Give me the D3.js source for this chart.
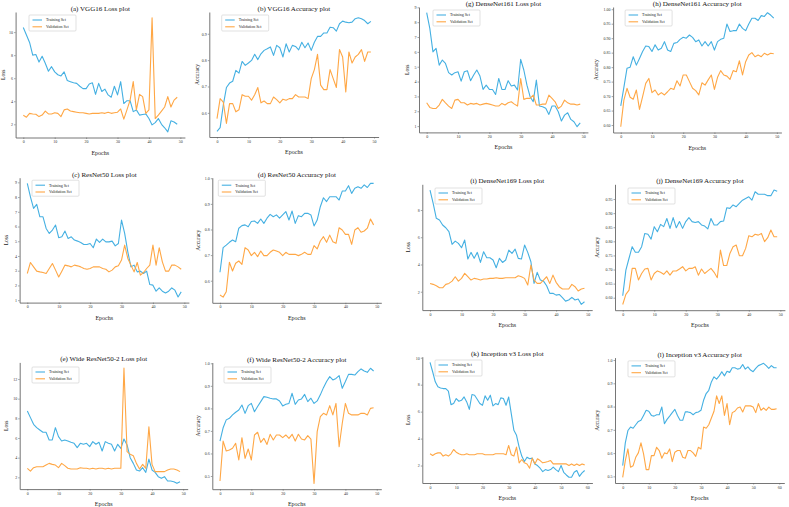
<!DOCTYPE html>
<html><head><meta charset="utf-8">
<script src="https://cdn.jsdelivr.net/npm/d3@7/dist/d3.min.js"></script>
<style>
body{margin:0;background:#fff;}
svg{display:block;}
text{font-family:"Liberation Serif","Times New Roman",serif;}
</style></head>
<body><svg id="c" width="789" height="507"></svg>
<script>
// ---------------- DATA ----------------
const vggLossTrain=[10.4,9.75,9.1,8.0,8.05,7.4,7.9,7.3,6.6,7.0,6.55,6.3,6.2,6.55,5.8,5.7,5.6,5.55,5.3,5.1,5.1,5.5,5.6,4.6,5.55,4.85,5.05,4.55,4.35,5.3,4.55,5.7,3.8,4.05,4.05,3.1,3.25,2.8,2.85,2.9,2.5,1.95,2.15,2.5,2.0,1.7,1.35,2.3,2.2,2.0];
const vggLossVal=[2.78,2.62,2.95,2.9,2.87,2.67,2.8,3.15,2.9,2.9,3.0,2.95,2.67,3.25,3.33,3.15,3.1,3.05,3.0,3.0,2.95,2.9,2.95,2.95,2.95,3.0,2.95,3.05,2.95,3.0,3.05,3.33,2.45,3.25,4.1,5.7,3.25,4.6,4.4,2.95,3.25,11.25,2.5,2.8,3.15,3.5,4.4,3.5,4.1,4.35];
const vggAccTrain=[0.530,0.544,0.629,0.696,0.713,0.72,0.761,0.751,0.795,0.78,0.789,0.799,0.822,0.802,0.824,0.837,0.843,0.85,0.818,0.856,0.847,0.812,0.862,0.831,0.856,0.852,0.839,0.868,0.847,0.865,0.837,0.868,0.89,0.89,0.903,0.903,0.925,0.923,0.91,0.938,0.948,0.944,0.942,0.944,0.957,0.961,0.957,0.95,0.938,0.947];
const vggAccVal=[0.578,0.654,0.641,0.56,0.635,0.635,0.604,0.612,0.669,0.663,0.663,0.648,0.669,0.696,0.638,0.645,0.635,0.635,0.66,0.65,0.638,0.652,0.648,0.654,0.654,0.669,0.66,0.66,0.66,0.654,0.73,0.764,0.822,0.705,0.688,0.688,0.764,0.73,0.696,0.84,0.812,0.679,0.831,0.789,0.812,0.822,0.84,0.795,0.831,0.831];

const res50LossTrain=[8.93,8.02,7.23,7.5,6.66,6.66,5.87,5.53,5.76,6.1,5.24,5.3,5.69,5.19,5.3,5.08,5.01,4.92,4.78,4.78,4.85,4.56,5.15,4.92,5.15,4.96,4.96,5.01,4.69,4.85,6.44,5.53,4.28,3.26,3.38,2.92,2.97,2.81,2.97,2.06,2.02,1.61,1.83,1.61,1.49,1.61,1.83,1.68,1.22,1.56];
const res50LossVal=[2.81,3.56,3.26,2.97,2.92,2.88,2.81,3.15,3.49,3.04,2.58,2.97,3.38,3.33,3.26,3.38,3.33,3.26,3.15,3.1,3.15,3.26,3.26,3.26,3.15,3.1,2.92,3.04,3.26,3.33,3.72,4.74,3.83,3.38,2.92,3.56,2.7,2.88,3.15,3.38,4.74,3.38,4.56,3.6,2.97,2.97,3.38,3.38,3.26,3.1];
const res50AccTrain=[0.633,0.729,0.739,0.75,0.759,0.752,0.805,0.815,0.818,0.811,0.831,0.833,0.824,0.841,0.824,0.844,0.859,0.85,0.857,0.844,0.857,0.87,0.837,0.872,0.824,0.854,0.85,0.863,0.863,0.857,0.814,0.837,0.889,0.924,0.909,0.928,0.928,0.928,0.915,0.95,0.95,0.971,0.941,0.961,0.967,0.961,0.974,0.964,0.98,0.98];
const res50AccVal=[0.544,0.536,0.557,0.672,0.638,0.668,0.677,0.664,0.729,0.72,0.698,0.711,0.694,0.716,0.698,0.698,0.711,0.72,0.716,0.711,0.698,0.711,0.703,0.703,0.703,0.698,0.703,0.711,0.703,0.703,0.737,0.724,0.755,0.772,0.75,0.778,0.752,0.746,0.807,0.798,0.781,0.781,0.742,0.798,0.807,0.789,0.794,0.805,0.841,0.818];

const wideLossTrain=[8.75,8.07,7.39,7.05,6.81,6.58,6.58,5.8,5.8,7.05,6.14,5.69,5.8,5.69,5.56,5.46,5.02,5.46,5.36,5.46,5.12,5.63,5.36,5.56,4.68,5.63,5.46,5.36,4.68,5.36,4.95,5.9,5.29,4.0,3.42,2.75,2.64,2.98,2.51,3.86,2.75,2.51,2.07,1.9,2.07,1.63,1.63,1.56,1.39,1.56];
const wideLossVal=[2.92,2.64,2.98,3.08,3.08,3.08,3.25,3.42,3.32,3.25,2.98,3.42,3.19,2.92,2.85,2.85,2.85,2.98,2.92,2.92,2.85,2.92,2.85,2.92,2.92,2.85,2.92,2.85,2.92,2.92,2.92,13.1,4.61,4.34,4.2,3.42,2.85,3.32,2.92,7.15,3.32,2.58,2.58,2.58,2.58,2.75,2.85,2.85,2.75,2.58];
const wideAccTrain=[0.655,0.714,0.749,0.756,0.771,0.783,0.793,0.815,0.778,0.812,0.822,0.785,0.808,0.83,0.852,0.849,0.845,0.842,0.842,0.833,0.811,0.818,0.822,0.867,0.818,0.837,0.842,0.862,0.83,0.845,0.822,0.833,0.86,0.892,0.919,0.941,0.926,0.933,0.945,0.889,0.919,0.951,0.951,0.948,0.963,0.975,0.966,0.96,0.978,0.966];
const wideAccVal=[0.478,0.655,0.611,0.615,0.623,0.645,0.571,0.67,0.578,0.62,0.571,0.682,0.694,0.649,0.667,0.64,0.685,0.66,0.682,0.682,0.67,0.682,0.667,0.685,0.655,0.685,0.664,0.66,0.679,0.664,0.467,0.697,0.763,0.778,0.771,0.812,0.771,0.822,0.63,0.734,0.822,0.778,0.771,0.771,0.771,0.778,0.778,0.771,0.8,0.803];

const d161LossTrain=[8.64,7.58,6.0,6.24,5.11,5.45,5.22,4.6,4.44,4.6,4.66,4.03,4.66,4.73,4.06,4.44,4.78,4.37,3.47,3.76,3.47,3.47,3.13,4.21,3.47,3.47,4.06,3.7,3.76,3.43,5.5,4.78,3.76,2.98,2.64,4.1,2.35,2.3,2.2,1.79,2.35,2.35,1.97,1.34,1.74,1.9,1.45,1.29,0.96,1.22];
const d161LossVal=[2.57,2.26,2.19,2.19,2.42,2.8,2.57,2.35,2.19,2.75,2.8,2.57,2.57,2.42,2.53,2.48,2.53,2.42,2.48,2.53,2.48,2.42,2.35,2.35,2.53,2.42,2.57,2.64,2.48,2.35,4.21,2.8,2.87,2.87,3.09,2.42,2.42,2.48,2.48,3.09,2.87,2.64,2.19,2.35,2.75,2.57,2.48,2.48,2.42,2.48];
const d161AccTrain=[0.666,0.73,0.796,0.8,0.836,0.807,0.83,0.854,0.873,0.871,0.854,0.877,0.859,0.865,0.888,0.859,0.854,0.882,0.885,0.896,0.903,0.9,0.911,0.903,0.888,0.894,0.873,0.888,0.873,0.888,0.859,0.888,0.896,0.9,0.949,0.923,0.926,0.926,0.949,0.934,0.926,0.949,0.969,0.969,0.961,0.978,0.975,0.988,0.98,0.969];
const d161AccVal=[0.594,0.686,0.727,0.696,0.689,0.721,0.654,0.698,0.744,0.761,0.712,0.721,0.704,0.712,0.704,0.715,0.727,0.723,0.753,0.735,0.773,0.773,0.75,0.727,0.719,0.704,0.746,0.738,0.756,0.773,0.723,0.765,0.788,0.773,0.769,0.758,0.788,0.784,0.822,0.773,0.819,0.842,0.85,0.836,0.842,0.836,0.848,0.842,0.848,0.846];

const d169LossTrain=[9.47,8.49,7.39,7.27,6.9,6.7,6.41,5.48,5.72,5.55,5.23,5.8,4.4,4.89,4.45,4.89,4.15,4.94,4.5,4.5,4.33,3.76,4.45,4.15,4.33,5.06,4.82,5.13,4.45,4.4,5.43,4.89,4.2,2.61,3.42,2.86,2.78,2.44,1.88,1.88,1.75,1.8,1.56,1.31,1.39,1.58,1.39,1.46,1.07,1.26];
const d169LossVal=[2.61,2.54,2.44,2.29,2.29,2.54,2.61,2.78,3.1,2.78,2.98,3.35,3.1,2.86,2.98,2.93,2.86,2.93,2.93,2.98,2.98,3.03,2.98,2.98,3.03,3.03,3.03,3.03,3.17,3.1,2.98,2.49,3.96,2.86,2.61,2.61,2.86,3.1,2.61,3.22,2.69,2.37,2.2,2.2,2.2,2.54,2.37,2.05,2.2,2.25];
const d169AccTrain=[0.607,0.698,0.74,0.781,0.761,0.761,0.781,0.828,0.825,0.808,0.852,0.834,0.86,0.852,0.881,0.846,0.884,0.848,0.87,0.846,0.87,0.884,0.87,0.867,0.87,0.858,0.854,0.844,0.881,0.858,0.858,0.87,0.872,0.919,0.917,0.929,0.923,0.935,0.946,0.952,0.958,0.946,0.976,0.967,0.967,0.967,0.962,0.962,0.982,0.978];
const d169AccVal=[0.576,0.612,0.627,0.704,0.704,0.663,0.686,0.702,0.704,0.663,0.686,0.695,0.69,0.683,0.695,0.68,0.695,0.695,0.702,0.71,0.695,0.704,0.704,0.71,0.68,0.702,0.686,0.695,0.704,0.69,0.671,0.769,0.714,0.714,0.757,0.781,0.787,0.749,0.749,0.775,0.82,0.816,0.825,0.822,0.828,0.799,0.813,0.84,0.816,0.816];

const incLossTrain=[9.65,8.96,8.21,7.84,7.76,7.71,7.71,7.52,6.52,6.6,6.97,6.77,6.84,7.09,6.72,6.17,7.27,7.22,6.92,6.6,6.47,7.17,6.84,7.22,6.42,6.6,6.52,7.02,6.97,6.47,7.09,5.85,4.61,4.24,3.37,2.7,2.3,2.62,2.5,2.55,2.12,2.0,1.8,1.55,1.7,1.63,1.7,1.88,1.7,1.55,2.0,1.5,1.3,1.13,1.13,1.5,1.63,1.2,1.45,1.63];
const incLossVal=[2.87,2.75,2.87,2.94,2.94,2.7,2.8,2.7,2.87,3.19,2.99,2.87,2.8,2.8,2.87,2.8,2.8,2.8,2.87,2.87,2.87,2.8,2.8,2.8,2.8,2.87,2.87,2.87,2.87,2.8,3.49,2.8,2.7,3.37,2.2,2.45,2.2,2.12,1.8,2.55,2.12,2.5,2.37,2.2,2.25,2.3,2.37,2.12,2.12,2.12,2.12,2.12,2.12,2.0,2.12,2.0,2.12,2.0,2.12,2.05];
const incAccTrain=[0.546,0.644,0.697,0.712,0.707,0.722,0.736,0.741,0.762,0.784,0.78,0.762,0.759,0.765,0.765,0.798,0.726,0.745,0.759,0.774,0.788,0.762,0.741,0.741,0.777,0.777,0.774,0.765,0.774,0.777,0.784,0.827,0.856,0.87,0.906,0.928,0.918,0.932,0.95,0.932,0.952,0.947,0.967,0.967,0.961,0.964,0.981,0.961,0.971,0.957,0.95,0.964,0.976,0.981,0.986,0.976,0.964,0.976,0.967,0.967];
const incAccVal=[0.496,0.568,0.618,0.539,0.546,0.582,0.601,0.644,0.597,0.529,0.529,0.589,0.589,0.625,0.611,0.578,0.601,0.597,0.618,0.563,0.604,0.611,0.611,0.582,0.578,0.611,0.611,0.601,0.586,0.625,0.618,0.712,0.707,0.722,0.751,0.78,0.846,0.813,0.846,0.762,0.813,0.722,0.774,0.78,0.794,0.798,0.777,0.803,0.803,0.803,0.798,0.774,0.813,0.784,0.794,0.784,0.798,0.788,0.788,0.791];

const xTicks50=[0,10,20,30,40,50];
const xTicks60=[0,10,20,30,40,50,60];
const yTicksA=[2,4,6,8,10];
const yTicksB=[0.6,0.7,0.8,0.9];
const yTicksC=[1,2,3,4,5,6,7,8,9];
const yTicksD=[0.6,0.7,0.8,0.9,1.0];
const yTicksE=[2,4,6,8,10,12];
const yTicksF=[0.5,0.6,0.7,0.8,0.9,1.0];
const yTicksG=[1,2,3,4,5,6,7,8,9];
const yTicksH=[0.60,0.65,0.70,0.75,0.80,0.85,0.90,0.95,1.00];
const yTicksI=[2,4,6,8];
const yTicksJ=[0.60,0.65,0.70,0.75,0.80,0.85,0.90,0.95];
const yTicksK=[2,4,6,8,10];
const yTicksL=[0.5,0.6,0.7,0.8,0.9,1.0];
const seriesNames=["Training Set","Validation Set"];

// ---------------- LAYOUT ----------------
const panels=[
 {title:"(a) VGG16 Loss plot",ylab:"Loss",tr:vggLossTrain,va:vggLossVal,xt:xTicks50,yt:yTicksA,fmt:"d",box:[15.6,12,184.9,137.5],ly:-13,lg:[13.4,3]},
 {title:"(b) VGG16 Accuracy plot",ylab:"Accuracy",tr:vggAccTrain,va:vggAccVal,xt:xTicks50,yt:yTicksB,fmt:".1f",box:[209.3,12,378.6,137],ly:-12.6,lg:[12.4,3]},
 {title:"(c) ResNet50 Loss plot",ylab:"Loss",tr:res50LossTrain,va:res50LossVal,xt:xTicks50,yt:yTicksC,fmt:"d",box:[19.6,177.7,188.9,302.6],ly:-13.6,lg:[12.4,2.5]},
 {title:"(d) ResNet50 Accuracy plot",ylab:"Accuracy",tr:res50AccTrain,va:res50AccVal,xt:xTicks50,yt:yTicksD,fmt:".1f",box:[212.3,177.7,381.3,302.8],ly:-14.3,lg:[6,2.5]},
 {title:"(e) Wide ResNet50-2 Loss plot",ylab:"Loss",tr:wideLossTrain,va:wideLossVal,xt:xTicks50,yt:yTicksE,fmt:"d",box:[19.7,362.4,187.7,489.1],ly:-13.7,lg:[12.3,4.6]},
 {title:"(f) Wide ResNet50-2 Accuracy plot",ylab:"Accuracy",tr:wideAccTrain,va:wideAccVal,xt:xTicks50,yt:yTicksF,fmt:".1f",box:[212.3,362.5,381.3,489.2],ly:-14.3,lg:[11.7,4.5]},
 {title:"(g) DenseNet161 Loss plot",ylab:"Loss",tr:d161LossTrain,va:d161LossVal,xt:xTicks50,yt:yTicksG,fmt:"d",box:[419,7,587.9,132.4],ly:-12,lg:[14,3]},
 {title:"(h) DenseNet161 Accuracy plot",ylab:"Accuracy",tr:d161AccTrain,va:d161AccVal,xt:xTicks50,yt:yTicksH,fmt:".2f",box:[613.1,7,781.4,132.5],ly:-17,lg:[12,3]},
 {title:"(i) DenseNet169 Loss plot",ylab:"Loss",tr:d169LossTrain,va:d169LossVal,xt:xTicks50,yt:yTicksI,fmt:"d",box:[422.3,184.3,592.2,310.1],ly:-14.3,lg:[12.7,3.7]},
 {title:"(j) DenseNet169 Accuracy plot",ylab:"Accuracy",tr:d169AccTrain,va:d169AccVal,xt:xTicks50,yt:yTicksJ,fmt:".2f",box:[615,184.3,784.9,310.2],ly:-18,lg:[13,3.7]},
 {title:"(k) Inception v3 Loss plot",ylab:"Loss",tr:incLossTrain,va:incLossVal,xt:xTicks60,yt:yTicksK,fmt:"d",box:[422.3,356.7,592.4,483],ly:-14.3,lg:[12.7,3.3]},
 {title:"(l) Inception v3 Accuracy plot",ylab:"Accuracy",tr:incAccTrain,va:incAccVal,xt:xTicks60,yt:yTicksL,fmt:".1f",box:[615,357.6,784.3,483],ly:-18,lg:[13,3.3]}
];
const colors=["#45b0e2","#ffa745"];
const svg=d3.select("#c");
svg.append("rect").attr("width",789).attr("height",507).attr("fill","#fff");

panels.forEach(p=>{
  const [l,t,r,b]=p.box;
  const n=p.tr.length;
  const x=d3.scaleLinear().domain([-0.05*(n-1),1.05*(n-1)]).range([l,r]);
  const ext=d3.extent(p.tr.concat(p.va));
  const pad=0.05*(ext[1]-ext[0]);
  const y=d3.scaleLinear().domain([ext[0]-pad,ext[1]+pad]).range([b,t]);
  const g=svg.append("g");
  const ax=g.append("g").attr("transform",`translate(0,${b})`)
    .call(d3.axisBottom(x).tickValues(p.xt).tickFormat(d3.format("d")).tickSize(1.5).tickSizeOuter(0).tickPadding(1.2));
  const ay=g.append("g").attr("transform",`translate(${l},0)`)
    .call(d3.axisLeft(y).tickValues(p.yt).tickFormat(d3.format(p.fmt)).tickSize(1.5).tickSizeOuter(0).tickPadding(1));
  [ax,ay].forEach(a=>{
    a.select(".domain").attr("stroke","#666").attr("stroke-width",0.9);
    a.selectAll(".tick line").attr("stroke","#666").attr("stroke-width",0.6);
    a.selectAll(".tick text").attr("font-size",4).attr("fill","#333").attr("font-family","Liberation Serif");
  });
  const line=d3.line().x((d,i)=>x(i)).y(d=>y(d));
  [p.tr,p.va].forEach((s,k)=>{
    g.append("path").datum(s).attr("d",line).attr("fill","none")
     .attr("stroke",colors[k]).attr("stroke-width",1.1).attr("stroke-linejoin","round");
  });
  g.append("text").attr("x",(l+r)/2).attr("y",t-1).attr("text-anchor","middle")
   .attr("font-size",7).attr("fill","#111").text(p.title);
  g.append("text").attr("x",(l+r)/2).attr("y",b+17).attr("text-anchor","middle")
   .attr("font-size",6).attr("fill","#222").text("Epochs");
  g.append("text").attr("transform",`translate(${l+p.ly+2},${(t+b)/2}) rotate(-90)`)
   .attr("text-anchor","middle").attr("font-size",5.5).attr("fill","#222").text(p.ylab);
  const lx=l+p.lg[0], lyy=t+p.lg[1];
  g.append("rect").attr("x",lx).attr("y",lyy).attr("width",47).attr("height",16).attr("rx",1)
   .attr("fill","#fff").attr("fill-opacity",0.85).attr("stroke","#ccc").attr("stroke-width",0.6);
  seriesNames.forEach((nm,k)=>{
    const yy=lyy+5+k*6.8;
    g.append("line").attr("x1",lx+3.5).attr("x2",lx+13).attr("y1",yy).attr("y2",yy)
     .attr("stroke",colors[k]).attr("stroke-width",1.1);
    g.append("text").attr("x",lx+17).attr("y",yy+1.4).attr("font-size",4).attr("fill","#222").text(nm);
  });
});
</script></body></html>
